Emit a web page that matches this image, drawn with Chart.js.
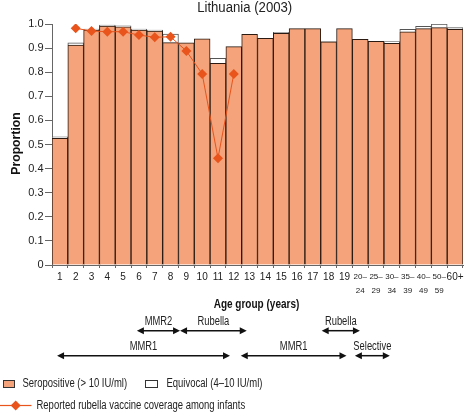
<!DOCTYPE html>
<html><head><meta charset="utf-8">
<script src="https://cdn.jsdelivr.net/npm/chart.js@4/dist/chart.umd.min.js"></script>
<style>html,body{margin:0;padding:0;background:#fff;overflow:hidden}canvas{display:block}</style>
</head><body>
<canvas id="c" width="468" height="413"></canvas>
<script>
// ---- data ----
const categories = ['1','2','3','4','5','6','7','8','9','10','11','12','13','14','15','16','17','18','19',
  ['20–','24'],['25–','29'],['30–','34'],['35–','39'],['40–','49'],['50–','59'],'60+'];
const seropositive = [0.526,0.913,0.975,0.991,0.988,0.975,0.971,0.923,0.922,0.938,0.837,0.906,0.957,
  0.941,0.961,0.981,0.981,0.926,0.981,0.936,0.928,0.920,0.968,0.981,0.985,0.978];
const equivocal = [0.006,0.009,0.004,0.005,0.004,0.004,0.004,0.035,0,0,0.021,0,0,
  0,0.004,0,0,0.002,0,0,0,0.007,0.010,0.009,0.015,0.007];
const coverage = [null,0.982,0.971,0.968,0.968,0.954,0.945,0.947,0.888,0.793,0.443,0.793,null,
  null,null,null,null,null,null,null,null,null,null,null,null,null];
const yTickValues = [0,0.1,0.2,0.3,0.4,0.5,0.6,0.7,0.8,0.9,1.0];
// vaccination programmes, spans in category-index units
const programmeLabels = ['MMR2','Rubella','Rubella','MMR1','MMR1','Selective'];
const programmeFrom  = [4.87, 7.6, 16.56, -0.18, 11.44, 18.66];
const programmeTo    = [7.6, 11.82, 18.98, 10.76, 18.13, 20.87];
const programmeRow   = [0,0,0,1,1,1];
const legendLabels = ['Seropositive (> 10 IU/ml)','Equivocal (4–10 IU/ml)','Reported rubella vaccine coverage among infants'];
const titleText = 'Lithuania (2003)';
const xTitle = 'Age group (years)';
const yTitle = 'Proportion';

// ---- style ----
const FONT = '"Liberation Sans",Arial,sans-serif';
const ORANGE = '#F4A37A';
const RED = '#E8541C';
Chart.defaults.font.family = FONT;
Chart.defaults.color = '#222';

// draw horizontally condensed text (reference uses a condensed face)
function ctext(ctx, text, x, y, font, sx, align, rot) {
  ctx.save();
  ctx.font = font;
  ctx.textAlign = align || 'center';
  ctx.textBaseline = 'middle';
  ctx.translate(x, y);
  if (rot) ctx.rotate(rot);
  ctx.scale(sx, 1);
  ctx.fillText(text, 0, 0);
  ctx.restore();
}

function arrow(ctx, x1, x2, y) {
  const hl = 7, hw = 3.5;
  ctx.save();
  ctx.strokeStyle = '#111'; ctx.fillStyle = '#111'; ctx.lineWidth = 1.5;
  ctx.beginPath(); ctx.moveTo(x1 + hl - 1, y); ctx.lineTo(x2 - hl + 1, y); ctx.stroke();
  ctx.beginPath(); ctx.moveTo(x1, y); ctx.lineTo(x1 + hl, y - hw); ctx.lineTo(x1 + hl, y + hw); ctx.closePath(); ctx.fill();
  ctx.beginPath(); ctx.moveTo(x2, y); ctx.lineTo(x2 - hl, y - hw); ctx.lineTo(x2 - hl, y + hw); ctx.closePath(); ctx.fill();
  ctx.restore();
}

const extras = {
  id: 'extras',
  afterDraw(chart) {
    const ctx = chart.ctx, xs = chart.scales.x, ca = chart.chartArea;
    ctx.save();
    ctx.fillStyle = '#222';
    // title
    ctext(ctx, titleText, 244.7, 8.5, '14px ' + FONT, 0.94);
    // axis titles
    ctx.fillStyle = '#111';
    ctext(ctx, xTitle, (ca.left + ca.right) / 2 - 1, 304, 'bold 13px ' + FONT, 0.77);
    ctext(ctx, yTitle, 16.5, (ca.top + ca.bottom) / 2 - 1, 'bold 13px ' + FONT, 0.94, 'center', -Math.PI / 2);
    // programmes
    const rowY = [330.7, 355.7];
    for (let i = 0; i < programmeLabels.length; i++) {
      const x1 = xs.getPixelForValue(programmeFrom[i]);
      const x2 = xs.getPixelForValue(programmeTo[i]);
      const y = rowY[programmeRow[i]];
      arrow(ctx, x1, x2, y);
      ctx.fillStyle = '#222';
      ctext(ctx, programmeLabels[i], (x1 + x2) / 2, y - 9.5, '12px ' + FONT, 0.78);
    }
    // legend
    ctx.lineWidth = 1;
    ctx.fillStyle = ORANGE; ctx.fillRect(3.5, 380.5, 11, 7);
    ctx.strokeStyle = '#333'; ctx.strokeRect(3.5, 380.5, 11, 7);
    ctx.fillStyle = '#222'; ctext(ctx, legendLabels[0], 22.5, 383.5, '12px ' + FONT, 0.79, 'left');
    ctx.fillStyle = '#fff'; ctx.fillRect(145.5, 380.5, 12, 7);
    ctx.strokeStyle = '#333'; ctx.strokeRect(145.5, 380.5, 12, 7);
    ctx.fillStyle = '#222'; ctext(ctx, legendLabels[1], 166.5, 383.5, '12px ' + FONT, 0.79, 'left');
    ctx.strokeStyle = RED; ctx.lineWidth = 1.2;
    ctx.beginPath(); ctx.moveTo(0, 405.5); ctx.lineTo(31.5, 405.5); ctx.stroke();
    ctx.fillStyle = RED;
    ctx.beginPath(); ctx.moveTo(15.7, 400.5); ctx.lineTo(20.7, 405.5); ctx.lineTo(15.7, 410.5); ctx.lineTo(10.7, 405.5); ctx.closePath(); ctx.fill();
    ctx.fillStyle = '#222'; ctext(ctx, legendLabels[2], 36.5, 405.5, '12px ' + FONT, 0.79, 'left');
    ctx.restore();
  }
};

new Chart(document.getElementById('c'), {
  data: {
    labels: categories,
    datasets: [
      { type: 'line', label: legendLabels[2], data: coverage, stack: 'cov', order: 0,
        borderColor: RED, borderWidth: 1, backgroundColor: RED,
        pointStyle: 'rectRot', pointRadius: 5, pointBackgroundColor: RED, pointBorderWidth: 0,
        spanGaps: false, tension: 0 },
      { type: 'bar', label: legendLabels[0], data: seropositive, stack: 'sero', order: 1,
        backgroundColor: ORANGE, borderColor: '#2a1a12', borderWidth: 1, borderSkipped: 'start',
        barPercentage: 1, categoryPercentage: 1 },
      { type: 'bar', label: legendLabels[1], data: equivocal, stack: 'sero', order: 1,
        backgroundColor: '#fff', borderColor: '#555', borderWidth: 1, borderSkipped: 'start',
        barPercentage: 1, categoryPercentage: 1 }
    ]
  },
  options: {
    responsive: false, animation: false,
    layout: { padding: { left: 0, top: 24, right: 4.5, bottom: 103 } },
    plugins: { legend: { display: false }, tooltip: { enabled: false }, title: { display: false } },
    scales: {
      x: {
        stacked: true, offset: true,
        grid: { display: true, drawOnChartArea: false, offset: true, tickLength: 3, color: '#666' },
        border: { display: true, color: '#666', width: 1 },
        ticks: {
          autoSkip: false, maxRotation: 0, minRotation: 0, padding: 2.5, color: '#222',
          font: (c) => (c.index >= 19 && c.index <= 24) ? { size: 8, lineHeight: 1.65 } : { size: 10, lineHeight: 1.32 }
        },
        title: { display: false },
        afterFit: (s) => { s.height = 45; }
      },
      y: {
        stacked: true, min: 0, max: 1,
        afterBuildTicks: (s) => { s.ticks = yTickValues.map(v => ({ value: v })); },
        grid: { display: true, drawOnChartArea: false, tickLength: 7, color: '#666' },
        border: { display: true, color: '#666', width: 1 },
        ticks: { padding: 1.5, font: { size: 11 }, color: '#222',
          callback: (v) => v === 0 ? '0' : Number(v).toFixed(1) },
        title: { display: false },
        afterFit: (s) => { s.width = 52; }
      }
    }
  },
  plugins: [extras]
});
</script>
</body></html>
